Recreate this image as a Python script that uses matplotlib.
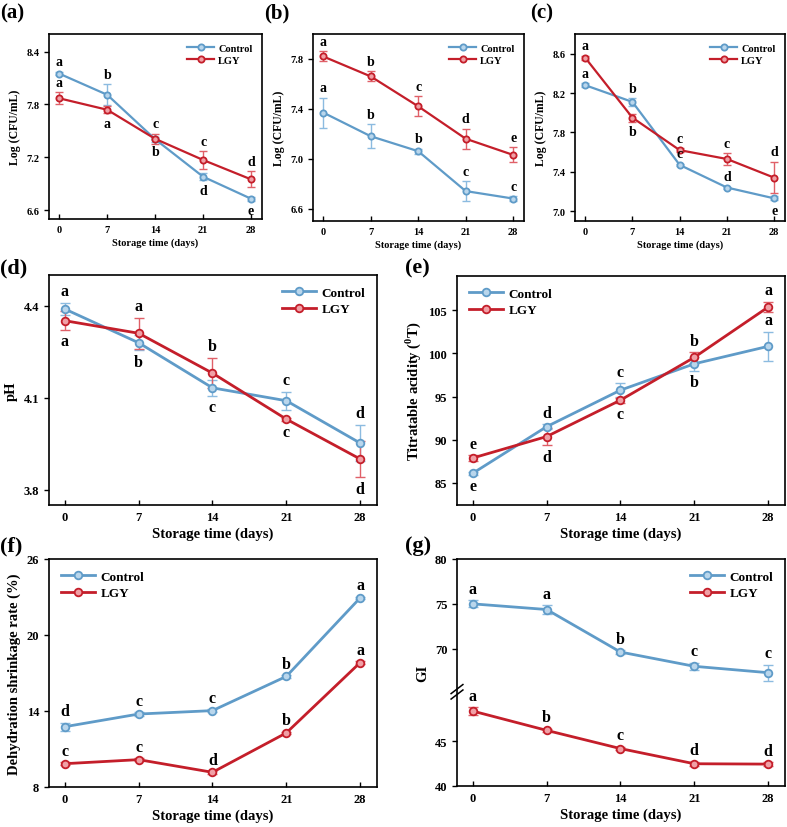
import matplotlib
matplotlib.use('Agg')
import matplotlib.pyplot as plt
import numpy as np
from matplotlib.scale import FuncScale

plt.rcParams['font.family'] = ['Liberation Serif', 'DejaVu Serif']
plt.rcParams['font.weight'] = 'bold'
plt.rcParams['axes.labelweight'] = 'bold'
plt.rcParams['mathtext.fontset'] = 'custom'
plt.rcParams['mathtext.rm'] = 'Liberation Serif:bold'
plt.rcParams['mathtext.bf'] = 'Liberation Serif:bold'

days = [0, 7, 14, 21, 28]
xticks = [0, 7, 14, 21, 28]

# (a)
a_ctrl = [8.15, 7.91, 7.405, 6.98, 6.73]
a_ctrl_err = [0.02, 0.12, 0.03, 0.04, 0.02]
a_lgy = [7.87, 7.74, 7.41, 7.17, 6.95]
a_lgy_err = [0.07, 0.04, 0.06, 0.10, 0.09]
a_ctrl_lab = ['a', 'b', 'b', 'd', 'e']
a_lgy_lab = ['a', 'a', 'c', 'c', 'd']
a_yticks = [6.6, 7.2, 7.8, 8.4]

# (b)
b_ctrl = [7.37, 7.18, 7.06, 6.74, 6.68]
b_ctrl_err = [0.12, 0.095, 0.02, 0.08, 0.02]
b_lgy = [7.82, 7.66, 7.42, 7.16, 7.03]
b_lgy_err = [0.04, 0.04, 0.08, 0.08, 0.06]
b_ctrl_lab = ['a', 'b', 'b', 'c', 'c']
b_lgy_lab = ['a', 'b', 'c', 'd', 'e']
b_yticks = [6.6, 7.0, 7.4, 7.8]

# (c)
c_ctrl = [8.28, 8.11, 7.47, 7.24, 7.13]
c_ctrl_err = [0.02, 0.04, 0.01, 0.01, 0.02]
c_lgy = [8.56, 7.95, 7.62, 7.53, 7.34]
c_lgy_err = [0.02, 0.04, 0.02, 0.06, 0.16]
c_ctrl_lab = ['a', 'b', 'c', 'd', 'e']
c_lgy_lab = ['a', 'b', 'c', 'c', 'd']
c_yticks = [7.0, 7.4, 7.8, 8.2, 8.6]

# (d) pH
d_ctrl = [4.389, 4.279, 4.132, 4.09, 3.952]
d_ctrl_err = [0.02, 0.025, 0.025, 0.03, 0.06]
d_lgy = [4.351, 4.31, 4.18, 4.03, 3.90]
d_lgy_err = [0.03, 0.05, 0.05, 0.005, 0.06]
d_ctrl_lab = ['a', 'b', 'c', 'c', 'd']
d_lgy_lab = ['a', 'a', 'b', 'c', 'd']
d_yticks = [3.8, 4.1, 4.4]

# (e) titratable acidity
e_ctrl = [86.09, 91.5, 95.74, 98.8, 100.83]
e_ctrl_err = [0.2, 0.3, 0.8, 0.8, 1.7]
e_lgy = [87.86, 90.35, 94.58, 99.55, 105.39]
e_lgy_err = [0.3, 1.0, 0.3, 0.6, 0.6]
e_ctrl_lab = ['e', 'd', 'c', 'b', 'a']
e_lgy_lab = ['e', 'd', 'c', 'b', 'a']
e_yticks = [85, 90, 95, 100, 105]

# (f) dehydration shrinkage
f_ctrl = [12.76, 13.76, 14.03, 16.73, 22.93]
f_ctrl_err = [0.3, 0.15, 0.1, 0.1, 0.1]
f_lgy = [9.84, 10.16, 9.16, 12.27, 17.82]
f_lgy_err = [0.1, 0.1, 0.1, 0.1, 0.1]
f_ctrl_lab = ['d', 'c', 'c', 'b', 'a']
f_lgy_lab = ['c', 'c', 'd', 'b', 'a']
f_yticks = [8, 14, 20, 26]

# (g) GI
g_ctrl = [75.0, 74.37, 69.63, 68.04, 67.33]
g_ctrl_err = [0.4, 0.5, 0.2, 0.4, 0.9]
g_lgy = [48.35, 46.2, 44.17, 42.48, 42.44]
g_lgy_err = [0.4, 0.2, 0.2, 0.2, 0.2]
g_ctrl_lab = ['a', 'a', 'b', 'c', 'c']
g_lgy_lab = ['a', 'b', 'c', 'd', 'd']
g_yticks = [40, 45, 70, 75, 80]

C_BLUE = '#5f9bc8'
C_BLUE_E = '#8cbbe0'
C_BLUE_F = '#b9d6ec'
C_RED = '#c41e2a'
C_RED_E = '#e06068'
C_RED_F = '#f0a0a6'

W, H = 787, 828
fig = plt.figure(figsize=(W / 100, H / 100), dpi=100)


def add_ax(x0, y0, x1, y1):
    return fig.add_axes([x0 / W, 1 - y1 / H, (x1 - x0) / W, (y1 - y0) / H])


def draw(ax, ctrl, ctrl_err, lgy, lgy_err, ctrl_lab, lgy_lab, cpos, lpos,
         fs_tick, fs_lab, fs_let, fs_leg, lw, ms, legloc, small=False):
    for vals, errs, col, ecol, fcol, name in [
            (ctrl, ctrl_err, C_BLUE, C_BLUE_E, C_BLUE_F, 'Control'),
            (lgy, lgy_err, C_RED, C_RED_E, C_RED_F, 'LGY')]:
        ax.errorbar(days, vals, yerr=errs, fmt='none', ecolor=ecol,
                    elinewidth=1.0, capsize=3 if small else 3.5, capthick=1.0,
                    zorder=2)
        ax.plot(days, vals, color=col, lw=lw, marker='o', ms=ms, mfc=fcol,
                mec=col, mew=1.3, label=name, zorder=3)
    for vals, errs, labs, pos in [(ctrl, ctrl_err, ctrl_lab, cpos),
                                   (lgy, lgy_err, lgy_lab, lpos)]:
        for xi, v, e, l, p in zip(days, vals, errs, labs, pos):
            if p > 0:
                ax.annotate(l, (xi, v + e), xytext=(0, 2.5), textcoords='offset points',
                            ha='center', va='bottom', fontsize=fs_let, fontweight='bold')
            else:
                ax.annotate(l, (xi, v - e), xytext=(0, -2.5), textcoords='offset points',
                            ha='center', va='top', fontsize=fs_let, fontweight='bold')
    ax.set_xticks(xticks)
    ax.set_xlim(-1.5, 29.6)
    ax.tick_params(axis='both', labelsize=fs_tick, width=1.0, length=3.5)
    ax.tick_params(axis='y', direction='out')
    ax.tick_params(axis='x', direction='in', pad=4)
    for s in ax.spines.values():
        s.set_linewidth(1.2)
    for t in ax.get_xticklabels() + ax.get_yticklabels():
        t.set_fontweight('bold')
    ax.set_xlabel('Storage time (days)', fontsize=fs_lab, fontweight='bold', labelpad=3)
    leg = ax.legend(loc=legloc, frameon=False, fontsize=fs_leg, handlelength=2.6,
                    borderaxespad=0.5, labelspacing=0.3, handletextpad=0.4)
    for t in leg.get_texts():
        t.set_fontweight('bold')


# Top row
axa = add_ax(49, 35, 262, 220)
draw(axa, a_ctrl, a_ctrl_err, a_lgy, a_lgy_err, a_ctrl_lab, a_lgy_lab,
     [1, 1, -1, -1, -1], [1, -1, 1, 1, 1], 7.5, 7.5, 10, 7.5, 1.6, 4.5, 'upper right', True)
axa.set_ylim(6.5, 8.6)
axa.set_yticks(a_yticks)
axa.set_yticklabels([f'{v:.1f}' for v in a_yticks])
axa.set_ylabel('Log (CFU/mL)', fontsize=8.5, fontweight='bold')

axb = add_ax(313, 35, 524, 222)
draw(axb, b_ctrl, b_ctrl_err, b_lgy, b_lgy_err, b_ctrl_lab, b_lgy_lab,
     [1, 1, 1, 1, 1], [1, 1, 1, 1, 1], 7.5, 7.5, 10, 7.5, 1.6, 4.5, 'upper right', True)
axb.set_ylim(6.5, 8.0)
axb.set_yticks(b_yticks)
axb.set_yticklabels([f'{v:.1f}' for v in b_yticks])
axb.set_ylabel('Log (CFU/mL)', fontsize=8.5, fontweight='bold')

axc = add_ax(575, 35, 785, 222)
draw(axc, c_ctrl, c_ctrl_err, c_lgy, c_lgy_err, c_ctrl_lab, c_lgy_lab,
     [1, 1, 1, 1, -1], [1, -1, 1, 1, 1], 7.5, 7.5, 10, 7.5, 1.6, 4.5, 'upper right', True)
axc.set_ylim(6.9, 8.8)
axc.set_yticks(c_yticks)
axc.set_yticklabels([f'{v:.1f}' for v in c_yticks])
axc.set_ylabel('Log (CFU/mL)', fontsize=8.5, fontweight='bold')

# Middle row
axd = add_ax(49, 276, 377, 506)
draw(axd, d_ctrl, d_ctrl_err, d_lgy, d_lgy_err, d_ctrl_lab, d_lgy_lab,
     [1, -1, -1, 1, 1], [-1, 1, 1, -1, -1], 9, 10.5, 11.5, 9.5, 2.0, 5.5, 'upper right')
axd.set_ylim(3.75, 4.5)
axd.set_yticks(d_yticks)
axd.set_yticklabels([f'{v:.1f}' for v in d_yticks])
axd.set_ylabel('pH', fontsize=10.5, fontweight='bold')

axe = add_ax(457, 277, 785, 506)
draw(axe, e_ctrl, e_ctrl_err, e_lgy, e_lgy_err, e_ctrl_lab, e_lgy_lab,
     [-1, 1, 1, -1, 1], [1, -1, -1, 1, 1], 9, 10.5, 11.5, 9.5, 2.0, 5.5, 'upper left')
axe.set_ylim(82.4, 109)
axe.set_yticks(e_yticks)
axe.set_ylabel('Titratable acidity ($^{\\mathbf{0}}$T)', fontsize=10.5, fontweight='bold')

# Bottom row
axf = add_ax(49, 560, 377, 788)
draw(axf, f_ctrl, f_ctrl_err, f_lgy, f_lgy_err, f_ctrl_lab, f_lgy_lab,
     [1] * 5, [1] * 5, 9, 10.5, 11.5, 9.5, 2.0, 5.5, 'upper left')
axf.set_ylim(8, 26)
axf.set_yticks(f_yticks)
axf.set_ylabel('Dehydration shrinkage rate (%)', fontsize=10.5, fontweight='bold')

# (g) broken axis via custom scale
LO, HI = 50.5, 65.2
GAP = HI - LO


def fwd(y):
    y = np.asarray(y, dtype=float)
    return np.where(y > HI, y - GAP, np.minimum(y, LO))


def inv(v):
    v = np.asarray(v, dtype=float)
    return np.where(v > LO, v + GAP, v)


axg = add_ax(457, 560, 785, 787)
axg.set_yscale(FuncScale(axg, (fwd, inv)))
draw(axg, g_ctrl, g_ctrl_err, g_lgy, g_lgy_err, g_ctrl_lab, g_lgy_lab,
     [1] * 5, [1] * 5, 9, 10.5, 11.5, 9.5, 2.0, 5.5, 'upper right')
axg.set_ylim(40, 80)
axg.set_yticks(g_yticks)
axg.set_yticklabels([str(v) for v in g_yticks])
axg.yaxis.set_minor_locator(matplotlib.ticker.NullLocator())
axg.set_ylabel('GI', fontsize=10.5, fontweight='bold')
# break marks on left spine
yb = (fwd(LO) - 40) / (fwd(80) - 40)
for dy in (-0.012, 0.012):
    axg.plot([-0.018, 0.018], [yb + dy - 0.02, yb + dy + 0.02], transform=axg.transAxes,
             color='black', lw=1.1, clip_on=False, zorder=5)

# Panel labels
for txt, x, y, fs in [('(a)', 0, 13, 15), ('(b)', 264, 13, 15), ('(c)', 530, 13, 15),
                      ('(d)', 0, 268, 16), ('(e)', 405, 268, 16),
                      ('(f)', 0, 546, 16), ('(g)', 405, 546, 16)]:
    fig.text(x / W, 1 - y / H, txt, fontsize=fs, fontweight='bold', ha='left', va='center')

fig.savefig('out.png', dpi=100)
